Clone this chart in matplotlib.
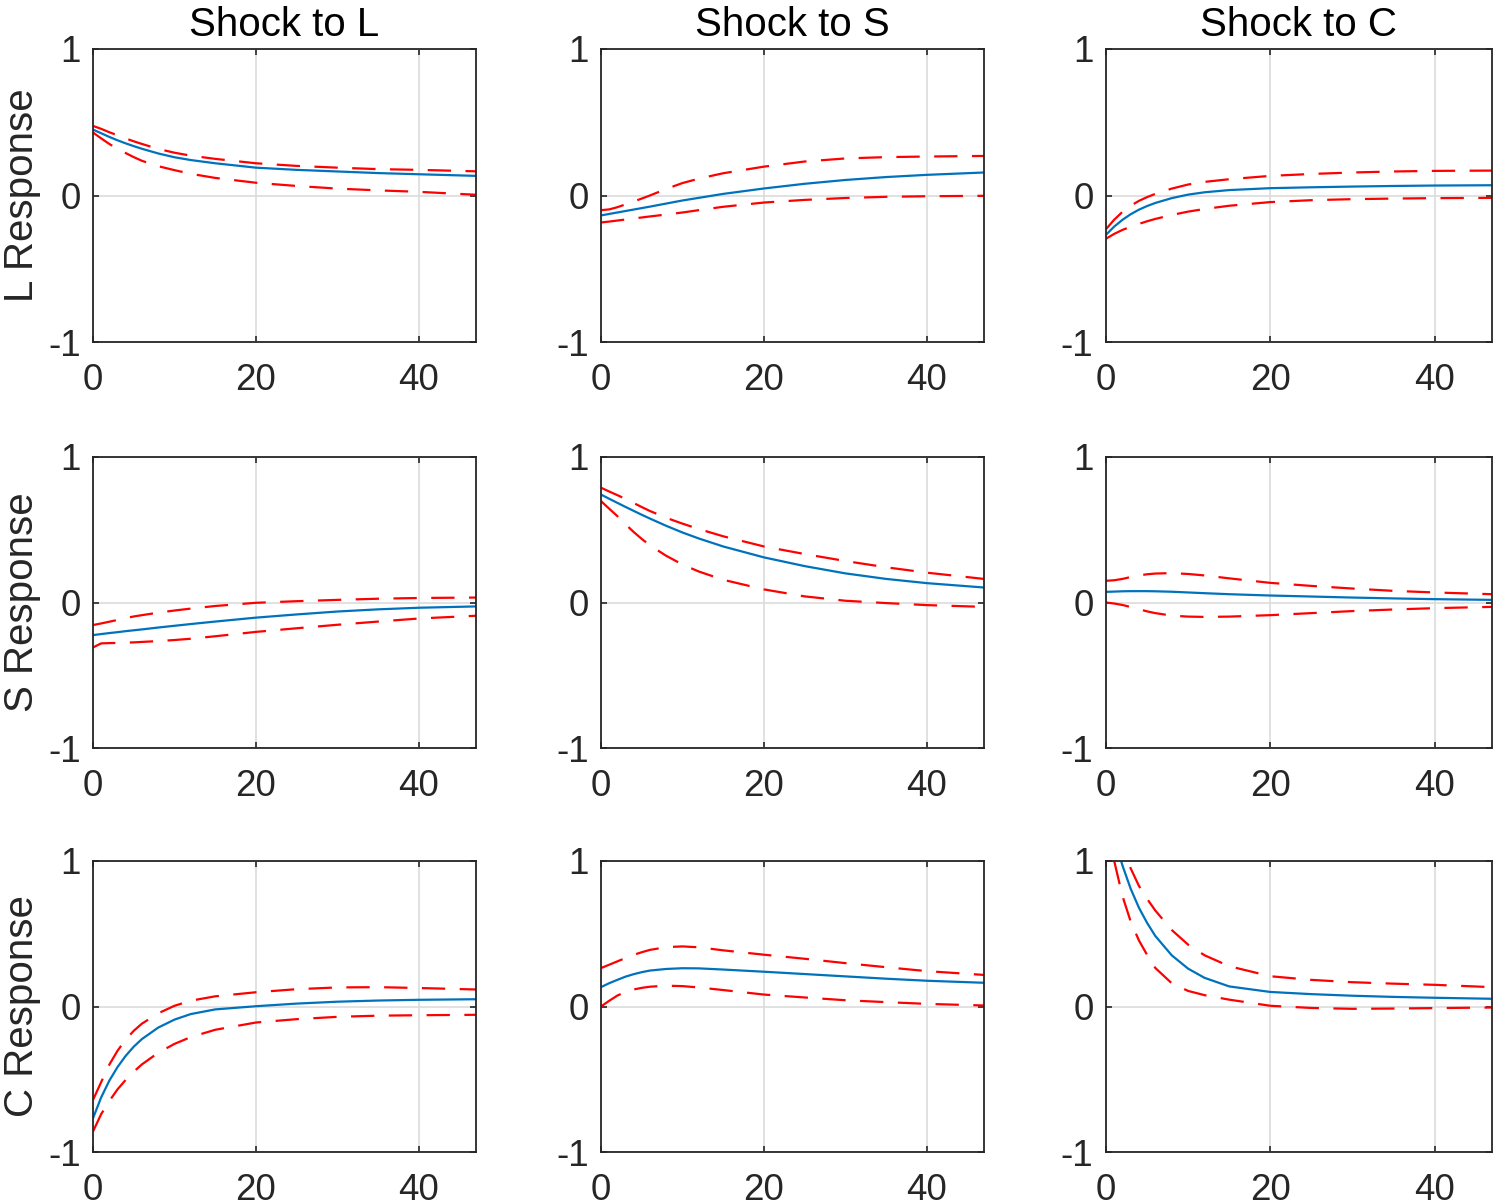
import numpy as np
import matplotlib
matplotlib.use('Agg')
import matplotlib.pyplot as plt

plt.rcParams['font.family'] = ['Liberation Sans', 'DejaVu Sans']
plt.rcParams['axes.unicode_minus'] = False

# horizons where the curves were read
horizon = [0, 1, 2, 3, 4, 5, 6, 8, 10, 12, 15, 20, 25, 30, 35, 40, 47]

# row L response
ll_irf = [0.45, 0.425, 0.40, 0.377, 0.356, 0.337, 0.319, 0.287, 0.261, 0.242, 0.22, 0.19, 0.175, 0.164, 0.153, 0.145, 0.134]
ll_hi = [0.475, 0.455, 0.432, 0.411, 0.39, 0.37, 0.352, 0.318, 0.292, 0.272, 0.25, 0.22, 0.202, 0.19, 0.18, 0.175, 0.165]
ll_lo = [0.43, 0.39, 0.352, 0.318, 0.29, 0.262, 0.237, 0.2, 0.173, 0.148, 0.12, 0.087, 0.065, 0.047, 0.035, 0.025, 0.005]

ls_irf = [-0.136, -0.126, -0.116, -0.106, -0.096, -0.086, -0.076, -0.055, -0.034, -0.016, 0.011, 0.048, 0.08, 0.106, 0.126, 0.141, 0.157]
ls_hi = [-0.10, -0.095, -0.08, -0.061, -0.041, -0.021, 0.0, 0.045, 0.085, 0.115, 0.152, 0.197, 0.232, 0.253, 0.262, 0.266, 0.27]
ls_lo = [-0.184, -0.178, -0.171, -0.164, -0.157, -0.15, -0.143, -0.13, -0.116, -0.1, -0.077, -0.048, -0.03, -0.017, -0.009, -0.005, -0.002]

lc_irf = [-0.268, -0.212, -0.166, -0.128, -0.097, -0.072, -0.051, -0.018, 0.006, 0.022, 0.037, 0.05, 0.056, 0.061, 0.065, 0.068, 0.07]
lc_hi = [-0.23, -0.165, -0.112, -0.07, -0.037, -0.011, 0.011, 0.047, 0.075, 0.093, 0.111, 0.134, 0.147, 0.157, 0.164, 0.168, 0.17]
lc_lo = [-0.295, -0.262, -0.235, -0.213, -0.194, -0.176, -0.16, -0.133, -0.11, -0.092, -0.07, -0.045, -0.032, -0.025, -0.021, -0.018, -0.016]

# row S response
sl_irf = [-0.224, -0.217, -0.21, -0.204, -0.197, -0.191, -0.185, -0.172, -0.16, -0.148, -0.131, -0.104, -0.082, -0.062, -0.047, -0.036, -0.027]
sl_hi = [-0.155, -0.144, -0.132, -0.12, -0.107, -0.096, -0.087, -0.07, -0.055, -0.042, -0.024, -0.002, 0.009, 0.018, 0.026, 0.031, 0.034]
sl_lo = [-0.309, -0.281, -0.279, -0.278, -0.276, -0.274, -0.271, -0.265, -0.258, -0.249, -0.232, -0.202, -0.177, -0.153, -0.131, -0.11, -0.091]

ss_irf = [0.742, 0.713, 0.685, 0.657, 0.63, 0.603, 0.577, 0.527, 0.481, 0.44, 0.385, 0.31, 0.25, 0.2, 0.162, 0.133, 0.103]
ss_hi = [0.789, 0.763, 0.738, 0.712, 0.684, 0.656, 0.629, 0.582, 0.542, 0.505, 0.455, 0.385, 0.333, 0.285, 0.242, 0.205, 0.162]
ss_lo = [0.697, 0.645, 0.594, 0.538, 0.485, 0.437, 0.393, 0.321, 0.261, 0.213, 0.156, 0.09, 0.042, 0.012, -0.004, -0.018, -0.03]

sc_irf = [0.073, 0.075, 0.077, 0.078, 0.078, 0.078, 0.077, 0.074, 0.069, 0.064, 0.057, 0.048, 0.041, 0.034, 0.028, 0.023, 0.018]
sc_hi = [0.149, 0.153, 0.162, 0.175, 0.186, 0.194, 0.199, 0.202, 0.196, 0.186, 0.166, 0.135, 0.114, 0.096, 0.08, 0.069, 0.057]
sc_lo = [0.0, -0.007, -0.017, -0.031, -0.046, -0.061, -0.073, -0.09, -0.097, -0.099, -0.097, -0.087, -0.073, -0.059, -0.048, -0.039, -0.03]

# row C response
cl_irf = [-0.768, -0.625, -0.51, -0.417, -0.34, -0.276, -0.224, -0.145, -0.09, -0.052, -0.02, 0.002, 0.02, 0.033, 0.041, 0.046, 0.05]
cl_hi = [-0.642, -0.52, -0.4, -0.305, -0.228, -0.167, -0.118, -0.047, 0.005, 0.04, 0.07, 0.098, 0.119, 0.131, 0.133, 0.127, 0.117]
cl_lo = [-0.859, -0.74, -0.65, -0.57, -0.505, -0.448, -0.398, -0.318, -0.257, -0.21, -0.16, -0.11, -0.087, -0.071, -0.063, -0.06, -0.057]

cs_irf = [0.133, 0.16, 0.183, 0.205, 0.222, 0.236, 0.247, 0.258, 0.263, 0.262, 0.254, 0.239, 0.223, 0.207, 0.191, 0.177, 0.163]
cs_hi = [0.264, 0.287, 0.31, 0.333, 0.355, 0.373, 0.389, 0.408, 0.413, 0.407, 0.386, 0.356, 0.328, 0.298, 0.27, 0.243, 0.217]
cs_lo = [0.0, 0.039, 0.075, 0.1, 0.117, 0.128, 0.136, 0.143, 0.14, 0.131, 0.113, 0.082, 0.062, 0.043, 0.03, 0.018, 0.007]

cc_irf = [1.35, 1.16, 0.97, 0.81, 0.68, 0.575, 0.485, 0.352, 0.26, 0.197, 0.138, 0.1, 0.085, 0.074, 0.066, 0.06, 0.053]
cc_hi = [1.45, 1.27, 1.09, 0.95, 0.83, 0.74, 0.66, 0.526, 0.425, 0.352, 0.277, 0.208, 0.183, 0.167, 0.157, 0.149, 0.133]
cc_lo = [1.25, 1.0, 0.76, 0.585, 0.455, 0.355, 0.265, 0.16, 0.107, 0.078, 0.047, 0.005, -0.01, -0.016, -0.014, -0.011, -0.007]

shock_titles = ['Shock to L', 'Shock to S', 'Shock to C']
response_labels = ['L Response', 'S Response', 'C Response']

panels = [
    [(ll_irf, ll_lo, ll_hi), (ls_irf, ls_lo, ls_hi), (lc_irf, lc_lo, lc_hi)],
    [(sl_irf, sl_lo, sl_hi), (ss_irf, ss_lo, ss_hi), (sc_irf, sc_lo, sc_hi)],
    [(cl_irf, cl_lo, cl_hi), (cs_irf, cs_lo, cs_hi), (cc_irf, cc_lo, cc_hi)],
]

W, H = 1495, 1203
fig = plt.figure(figsize=(W / 100, H / 100), dpi=100)

# axes boxes in pixels (left, right) and (top, bottom)
cols = [(93, 476), (601, 984), (1106, 1492)]
rows = [(49, 342), (457, 748), (861, 1152)]

ink = '#262626'
for r in range(3):
    for c in range(3):
        x0, x1 = cols[c]
        y0, y1 = rows[r]
        ax = fig.add_axes([x0 / W, 1 - y1 / H, (x1 - x0) / W, (y1 - y0) / H])
        irf, lo, hi = panels[r][c]
        ax.plot(horizon, irf, color='#0072BD', lw=1.6)
        ax.plot(horizon, lo, color='r', lw=1.6, dashes=(10.5, 6.5))
        ax.plot(horizon, hi, color='r', lw=1.6, dashes=(10.5, 6.5))

        ax.set_xlim(0, 47)
        ax.set_ylim(-1, 1)
        ax.set_xticks([0, 20, 40])
        ax.set_yticks([-1, 0, 1])
        ax.grid(True, color='#dcdcdc', lw=1.2)
        ax.set_axisbelow(True)
        ax.tick_params(direction='in', length=4, width=1.2, colors=ink,
                       labelsize=26.5, top=True, right=True)
        ax.tick_params(axis='x', pad=15)
        ax.tick_params(axis='y', pad=9)
        for sp in ax.spines.values():
            sp.set_color(ink)
            sp.set_linewidth(1.3)

        if r == 0:
            ax.set_title(shock_titles[c], fontsize=29, color='black', pad=9)
        if c == 0:
            ax.set_ylabel(response_labels[r], fontsize=29, color=ink)
            ax.yaxis.set_label_coords(-0.135, 0.5)

fig.savefig('out.png', dpi=100)
